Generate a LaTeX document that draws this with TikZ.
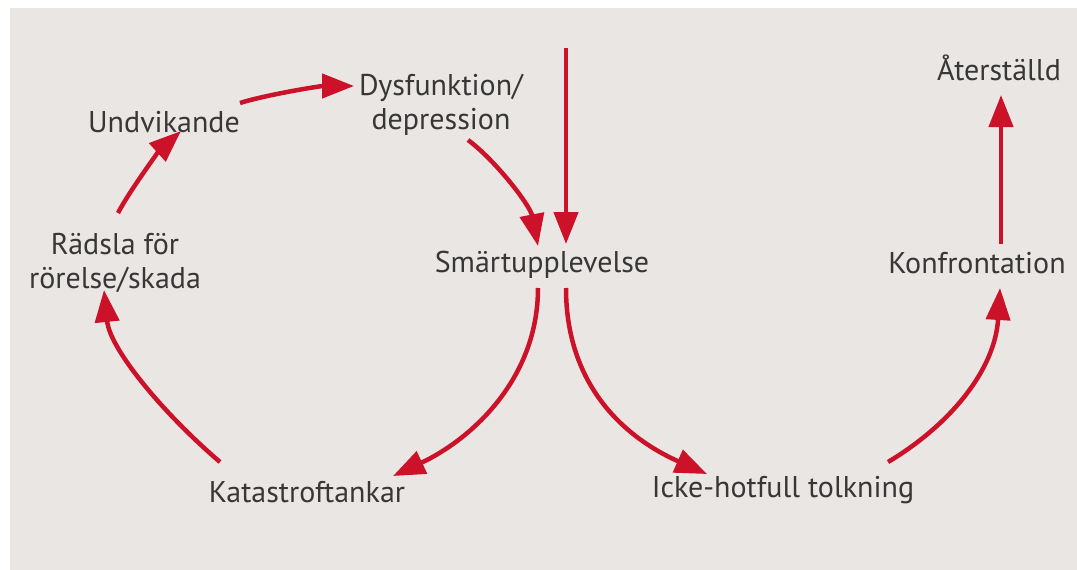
\documentclass[tikz,border=0pt]{standalone}
\usepackage{fontspec}
\setmainfont{PT Sans}
\usetikzlibrary{arrows.meta,calc}
\definecolor{bgc}{RGB}{233,230,228}
\definecolor{arr}{RGB}{204,18,40}
\definecolor{txt}{RGB}{55,55,55}
\tikzset{
  lbl/.style={text=txt,font=\fontsize{30}{34}\selectfont,align=center,inner sep=0pt},
  con/.style={draw=arr,line width=4.5pt,-{Triangle[length=32pt,width=24pt]}}
}
\begin{document}
\begin{tikzpicture}[x=1pt,y=-1pt]
\useasboundingbox (0,0) rectangle (1077,570);
\fill[bgc] (10,8) rectangle (1077,570);
\node[lbl] (und) at (164,122) {Undvikande};
\node[lbl] (dys) at (441,105) {Dysfunktion/\\depression};
\node[lbl] (sma) at (542,265) {Smärtupplevelse};
\node[lbl] (rad) at (115,263) {Rädsla för\\rörelse/skada};
\node[lbl] (kat) at (307,492) {Katastroftankar};
\node[lbl] (icke) at (783,490) {Icke-hotfull tolkning};
\node[lbl] (konf) at (977,263) {Konfrontation};
\node[lbl] (ater) at (999,68) {Återställd};
\coordinate (top) at (566,48);
% cycle
\draw[con] ($(und)+(76,-19)$) .. controls +(25,-8) and +(-34,0) .. ($(dys)+(-87,-19)$);
\draw[con] ($(rad)+(3,-50)$) .. controls +(12,-23) and +(-21,19) .. ($(und)+(17,9)$);
\draw[con] ($(kat)+(-87,-30)$) .. controls +(-55,-47) and +(6,60) .. ($(rad)+(-11,27)$);
\draw[con] ($(sma)+(-4,23)$) .. controls +(0,92) and +(77,-36) .. ($(kat)+(86,-16)$);
\draw[con] ($(dys)+(27,35)$) .. controls +(27,20) and +(-8,-41) .. ($(sma)+(-4,-19)$);
\draw[con] (top) -- ($(sma)+(24,-21)$);
\draw[con] ($(sma)+(24,23)$) .. controls +(0,102) and +(-77,-34) .. ($(icke)+(-76,-16)$);
\draw[con] ($(icke)+(105,-28)$) .. controls +(62,-37) and +(-5,82) .. ($(konf)+(23,25)$);
\draw[con] ($(konf)+(24,-19)$) -- ($(ater)+(2,27)$);
\end{tikzpicture}
\end{document}
